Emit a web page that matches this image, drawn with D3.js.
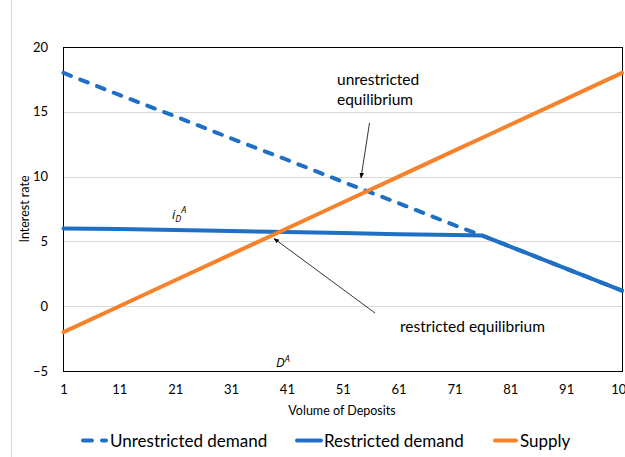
<!DOCTYPE html>
<html>
<head>
<meta charset="utf-8">
<script src="https://cdn.jsdelivr.net/npm/d3@7"></script>
<style>
  html, body { margin: 0; padding: 0; background: #fff; }
  svg { display: block; font-family: Lato, "Open Sans", "Liberation Sans", sans-serif; }
</style>
</head>
<body>
<svg id="chart" width="625" height="457"></svg>
<script>
// Volume of deposits at which each curve is sampled
const deposits = [1, 11, 21, 31, 41, 51, 61, 71, 76, 81, 91, 101];
// Interest rate on each curve
const unrestrictedDemand = [18.0, 16.3, 14.65, 12.95, 11.3, 9.6, 7.95, 6.25, 5.45, 4.6, 2.9, 1.2];
const restrictedDemand   = [6.0, 5.95, 5.88, 5.8, 5.72, 5.64, 5.56, 5.5, 5.45, 4.6, 2.9, 1.2];
const supply             = [-2.0, 0.0, 2.0, 4.0, 6.0, 8.0, 10.0, 12.0, 13.0, 14.0, 16.0, 18.0];

const xTicks = [1, 11, 21, 31, 41, 51, 61, 71, 81, 91, 101];
const xTickLabels = ["1", "11", "21", "31", "41", "51", "61", "71", "81", "91", "101"];
const yTicks = [-5, 0, 5, 10, 15, 20];

const seriesNames = ["Unrestricted demand", "Restricted demand", "Supply"];
const BLUE = "#1f70c4", ORANGE = "#f7822c";

const svg = d3.select("#chart");
const plot = { left: 63, right: 622, top: 47, bottom: 371 };

const x = d3.scaleLinear().domain([1, 101]).range([plot.left + 0.5, plot.right]);
const y = d3.scaleLinear().domain([-5, 20]).range([plot.bottom, plot.top]);

// faint chart-area edge on the left
svg.append("line").attr("x1", 11.5).attr("x2", 11.5).attr("y1", 0).attr("y2", 457)
  .attr("stroke", "#d9d9d9").attr("stroke-width", 1);

// horizontal gridlines
svg.append("g").selectAll("line").data(yTicks.slice(1, -1)).join("line")
  .attr("x1", plot.left).attr("x2", plot.right)
  .attr("y1", d => Math.round(y(d)) + 0.5).attr("y2", d => Math.round(y(d)) + 0.5)
  .attr("stroke", "#d9d9d9").attr("stroke-width", 1);

// y axis labels
const yAxis = d3.axisLeft(y).tickValues(yTicks).tickSize(0).tickPadding(15);
const gy = svg.append("g").attr("transform", `translate(${plot.left},0)`).call(yAxis);
gy.select(".domain").remove();
gy.selectAll("text").attr("font-size", 13).attr("fill", "#000").style("font-family", "Lato, sans-serif");

// x axis labels
const xAxis = d3.axisBottom(x).tickValues(xTicks).tickFormat((d, i) => xTickLabels[i]).tickSize(0).tickPadding(14);
const gx = svg.append("g").attr("transform", `translate(0,${plot.bottom})`).call(xAxis);
gx.select(".domain").remove();
gx.selectAll("text").attr("font-size", 13).attr("fill", "#000").style("font-family", "Lato, sans-serif");

// plot frame
svg.append("rect").attr("x", plot.left + 0.5).attr("y", plot.top + 0.5)
  .attr("width", plot.right - plot.left).attr("height", plot.bottom - plot.top)
  .attr("fill", "none").attr("stroke", "#000").attr("stroke-width", 1);

// axis titles
svg.append("text").attr("transform", `translate(29,${(plot.top + plot.bottom) / 2}) rotate(-90)`)
  .attr("text-anchor", "middle").attr("font-size", 12.5).text("Interest rate");
svg.append("text").attr("x", 342).attr("y", 415).attr("text-anchor", "middle")
  .attr("font-size", 12.5).text("Volume of Deposits");

// curves
const line = d3.line().x(d => x(d[0])).y(d => y(d[1]));
const pts = vals => deposits.map((d, i) => [d, vals[i]]);

svg.append("path").datum(pts(unrestrictedDemand)).attr("d", line)
  .attr("fill", "none").attr("stroke", BLUE).attr("stroke-width", 4)
  .attr("stroke-linecap", "round").attr("stroke-dasharray", "8,10");
svg.append("path").datum(pts(restrictedDemand)).attr("d", line)
  .attr("fill", "none").attr("stroke", BLUE).attr("stroke-width", 4)
  .attr("stroke-linejoin", "round").attr("stroke-linecap", "round");
svg.append("path").datum(pts(supply)).attr("d", line)
  .attr("fill", "none").attr("stroke", ORANGE).attr("stroke-width", 4)
  .attr("stroke-linecap", "round");

// arrow marker
svg.append("defs").append("marker").attr("id", "arrow")
  .attr("viewBox", "0 0 10 10").attr("refX", 9).attr("refY", 5)
  .attr("markerWidth", 7).attr("markerHeight", 7).attr("orient", "auto")
  .append("path").attr("d", "M0,1 L10,5 L0,9 Z").attr("fill", "#000");

// annotations
svg.append("text").attr("x", 337).attr("y", 85).attr("font-size", 15.5).text("unrestricted");
svg.append("text").attr("x", 337).attr("y", 105).attr("font-size", 15.5).text("equilibrium");
svg.append("line").attr("x1", 369.5).attr("y1", 123).attr("x2", 361).attr("y2", 178)
  .attr("stroke", "#000").attr("stroke-width", 0.8).attr("marker-end", "url(#arrow)");

svg.append("text").attr("x", 400).attr("y", 332).attr("font-size", 15.5).text("restricted equilibrium");
svg.append("line").attr("x1", 375).attr("y1", 313).attr("x2", 274).attr("y2", 238.5)
  .attr("stroke", "#000").attr("stroke-width", 0.8).attr("marker-end", "url(#arrow)");

const iLabel = svg.append("text").attr("x", 172).attr("y", 219).attr("font-size", 13)
  .attr("font-style", "italic").attr("font-family", "'Open Sans', sans-serif");
iLabel.append("tspan").text("i");
iLabel.append("tspan").attr("dy", 3).attr("font-size", 9).text("D");
iLabel.append("tspan").attr("dy", -9).attr("font-size", 9).text("A");

const dLabel = svg.append("text").attr("x", 276).attr("y", 367).attr("font-size", 13)
  .attr("font-style", "italic").attr("font-family", "'Open Sans', sans-serif");
dLabel.append("tspan").text("D");
dLabel.append("tspan").attr("dy", -5).attr("font-size", 9).text("A");

// legend
const legendItems = [
  { name: seriesNames[0], color: BLUE, dash: "9,10", x0: 83, x1: 106, tx: 110 },
  { name: seriesNames[1], color: BLUE, dash: null, x0: 297, x1: 321, tx: 324 },
  { name: seriesNames[2], color: ORANGE, dash: null, x0: 495, x1: 516, tx: 520 }
];
const lg = svg.append("g").selectAll("g").data(legendItems).join("g");
lg.append("line").attr("x1", d => d.x0).attr("x2", d => d.x1).attr("y1", 440.5).attr("y2", 440.5)
  .attr("stroke", d => d.color).attr("stroke-width", 4).attr("stroke-linecap", "round")
  .attr("stroke-dasharray", d => d.dash);
lg.append("text").attr("x", d => d.tx).attr("y", 447).attr("font-size", 17).text(d => d.name);
</script>
</body>
</html>
